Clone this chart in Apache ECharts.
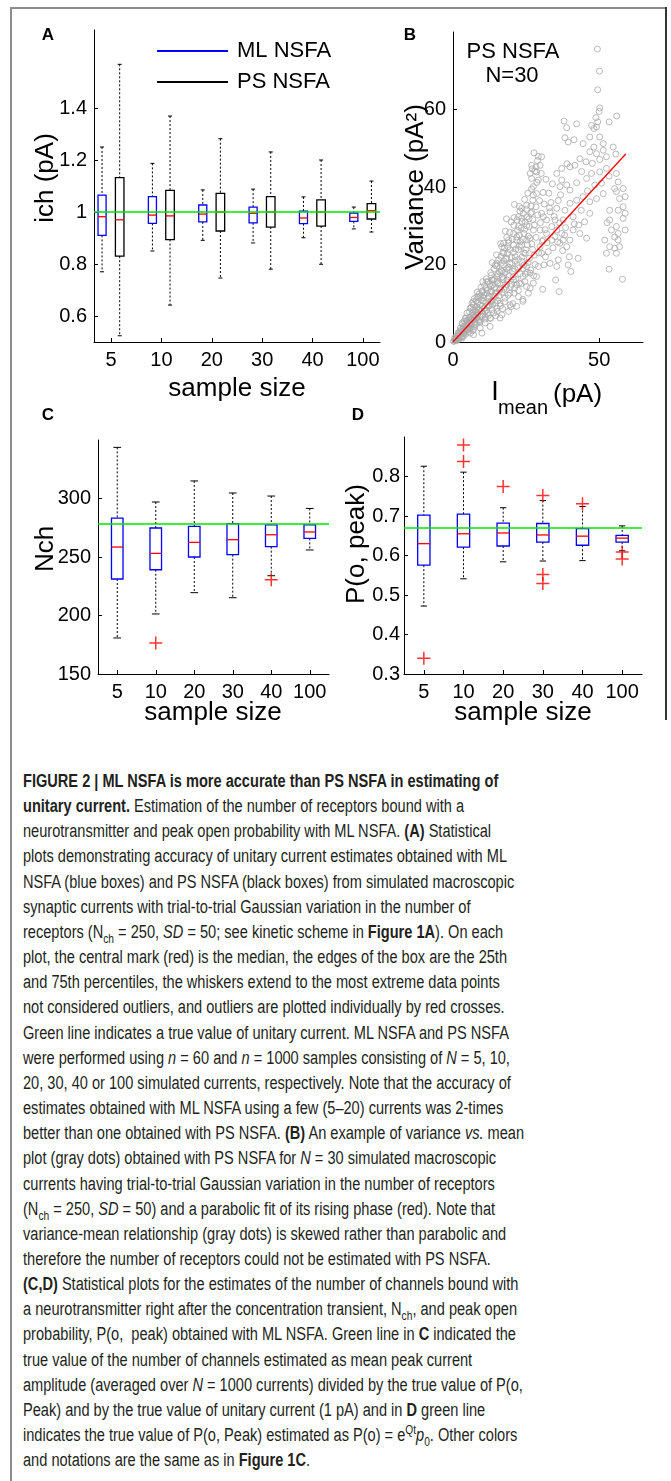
<!DOCTYPE html>
<html>
<head>
<meta charset="utf-8">
<script src="https://cdn.jsdelivr.net/npm/echarts@6/dist/echarts.min.js"></script>
<style>
  html, body { margin: 0; padding: 0; background: #fff; }
  #page { position: relative; width: 671px; height: 1481px; overflow: hidden; }
  #chart { position: absolute; left: 0; top: 0; width: 671px; height: 740px; }
  .frame { position: absolute; background: #8c8c8c; }
  #caption {
    position: absolute; left: 23px; top: 769px;
    font-family: 'Liberation Sans', Arial, sans-serif;
    font-size: 18px; line-height: 25.15px; color: #231f20;
    white-space: nowrap; transform-origin: 0 0;
  }
  #caption sub, #caption sup { font-size: 70%; line-height: 0; }
</style>
</head>
<body>
<div id="page">
  <div class="frame" style="left:10px; top:7px; width:2px; height:1474px;"></div>
  <div class="frame" style="left:10px; top:7px; width:657px; height:2px;"></div>
  <div class="frame" style="left:665px; top:7px; width:2px; height:713px; background:#333;"></div>
  <div id="chart"></div>
  <div id="caption">
<b>FIGURE 2 | ML NSFA is more accurate than PS NSFA in estimating of</b><br>
<b>unitary current.</b> Estimation of the number of receptors bound with a<br>
neurotransmitter and peak open probability with ML NSFA. <b>(A)</b> Statistical<br>
<span id="refline">plots demonstrating accuracy of unitary current estimates obtained with ML</span><br>
NSFA (blue boxes) and PS NSFA (black boxes) from simulated macroscopic<br>
synaptic currents with trial-to-trial Gaussian variation in the number of<br>
receptors (N<sub>ch</sub> = 250, <i>SD</i> = 50; see kinetic scheme in <b>Figure 1A</b>). On each<br>
plot, the central mark (red) is the median, the edges of the box are the 25th<br>
and 75th percentiles, the whiskers extend to the most extreme data points<br>
not considered outliers, and outliers are plotted individually by red crosses.<br>
Green line indicates a true value of unitary current. ML NSFA and PS NSFA<br>
were performed using <i>n</i> = 60 and <i>n</i> = 1000 samples consisting of <i>N</i> = 5, 10,<br>
20, 30, 40 or 100 simulated currents, respectively. Note that the accuracy of<br>
estimates obtained with ML NSFA using a few (5–20) currents was 2-times<br>
better than one obtained with PS NSFA. <b>(B)</b> An example of variance <i>vs.</i> mean<br>
plot (gray dots) obtained with PS NSFA for <i>N</i> = 30 simulated macroscopic<br>
currents having trial-to-trial Gaussian variation in the number of receptors<br>
(N<sub>ch</sub> = 250, <i>SD</i> = 50) and a parabolic fit of its rising phase (red). Note that<br>
variance-mean relationship (gray dots) is skewed rather than parabolic and<br>
therefore the number of receptors could not be estimated with PS NSFA.<br>
<b>(C,D)</b> Statistical plots for the estimates of the number of channels bound with<br>
a neurotransmitter right after the concentration transient, N<sub>ch</sub>, and peak open<br>
probability, P(o,&nbsp; peak) obtained with ML NSFA. Green line in <b>C</b> indicated the<br>
true value of the number of channels estimated as mean peak current<br>
amplitude (averaged over <i>N</i> = 1000 currents) divided by the true value of P(o,<br>
Peak) and by the true value of unitary current (1 pA) and in <b>D</b> green line<br>
indicates the true value of P(o, Peak) estimated as P(o) = e<sup>Qt</sup><i>p</i><sub>0</sub>. Other colors<br>
and notations are the same as in <b>Figure 1C</b>.
  </div>
</div>
<script>
var sampleSizes = ['5', '10', '20', '30', '40', '100'];

// each row: [min, q1, median, q3, max]
var ichML = [
  [0.77, 0.91, 0.982, 1.065, 1.25],
  [0.85, 0.956, 0.988, 1.059, 1.187],
  [0.891, 0.962, 0.992, 1.027, 1.085],
  [0.881, 0.958, 0.995, 1.019, 1.088],
  [0.901, 0.955, 0.977, 1.003, 1.058],
  [0.935, 0.964, 0.979, 0.996, 1.019]
];
var ichPS = [
  [0.524, 0.83, 0.97, 1.132, 1.568],
  [0.642, 0.894, 0.985, 1.083, 1.369],
  [0.746, 0.927, 1.0, 1.072, 1.282],
  [0.78, 0.942, 1.0, 1.059, 1.231],
  [0.799, 0.946, 1.0, 1.047, 1.2],
  [0.923, 0.973, 1.005, 1.032, 1.119]
];
var ichTrue = 1.0;

var nchML = [
  [180.8, 231.2, 258.5, 283.3, 343.7],
  [201.3, 239.1, 253.1, 274.8, 297],
  [219.5, 250, 262.5, 276.2, 315],
  [215.2, 252, 264.8, 278.5, 304.7],
  [234, 258.8, 269, 277.4, 302.1],
  [256, 265.9, 271.4, 277.4, 291.5]
];
// [sample-size index, value]
var nchOutliers = [[1, 176.5], [4, 230.6]];
var nchTrue = 278.2;

var popML = [
  [0.472, 0.5755, 0.630, 0.702, 0.826],
  [0.541, 0.621, 0.655, 0.705, 0.811],
  [0.584, 0.624, 0.657, 0.682, 0.721],
  [0.586, 0.634, 0.652, 0.681, 0.739],
  [0.587, 0.626, 0.649, 0.668, 0.724],
  [0.612, 0.634, 0.644, 0.651, 0.675]
];
var popOutliers = [
  [0, 0.340], [1, 0.880], [1, 0.838], [2, 0.775], [3, 0.752],
  [3, 0.552], [3, 0.529], [4, 0.731], [5, 0.609], [5, 0.591]
];
var popTrue = 0.665;

// panel B: [I mean (pA), variance (pA^2)]
var varianceMean = [
  [0.3,0.2],[0.8,0.5],[1.2,1.0],[1.5,0.6],[1.9,1.6],[2.2,1.1],[1.0,1.4],[2.6,2.0],[2.4,2.8],[3.0,1.5],
  [3.1,2.6],[3.4,3.5],[3.7,2.2],[4.0,4.1],[4.2,3.0],[4.5,5.0],[4.8,3.7],[5.0,2.6],[3.3,4.6],[4.4,6.1],
  [5.2,4.4],[5.5,5.6],[5.8,3.4],[3.8,5.4],[6.0,6.5],[6.3,4.8],[6.6,7.4],[6.9,5.6],[7.2,3.9],[7.4,8.2],
  [7.7,6.6],[8.0,4.8],[6.2,8.9],[7.0,9.6],[8.2,9.0],[8.5,7.3],[8.8,5.7],[5.6,7.8],[7.9,10.6],[6.7,2.9],
  [9.1,8.6],[9.4,6.4],[9.7,10.9],[10.0,9.3],[10.3,7.1],[10.6,12.1],[10.9,5.9],[11.2,10.2],[11.5,8.2],[11.8,13.4],
  [12.1,6.8],[9.0,12.4],[9.6,14.1],[10.8,14.6],[11.9,11.2],[8.6,11.5],[12.4,9.4],[12.0,15.5],[12.7,12.9],[13.0,10.6],
  [13.3,8.4],[13.6,14.7],[13.9,12.0],[14.2,16.3],[14.5,10.1],[14.8,13.8],[15.1,7.9],[15.4,17.6],[15.7,11.9],[16.0,15.0],
  [13.1,17.2],[14.0,18.8],[15.0,19.6],[16.2,9.3],[12.9,6.1],[14.6,6.8],[16.5,18.4],[16.8,12.8],[17.1,16.1],[17.4,20.9],
  [17.7,10.4],[18.0,14.2],[18.3,18.9],[18.6,22.8],[18.9,12.1],[19.2,16.9],[19.5,20.2],[19.8,9.1],[16.4,22.1],[17.6,24.2],
  [19.0,25.6],[20.0,14.9],[17.0,8.6],[18.4,27.0],[20.3,18.3],[20.6,23.1],[20.9,12.6],[21.2,21.0],[21.5,16.2],[21.8,27.1],
  [22.1,19.4],[22.4,13.3],[22.7,24.7],[23.0,17.6],[23.3,29.4],[23.6,21.9],[23.9,11.0],[20.8,30.1],[21.9,31.5],[22.9,33.8],
  [24.0,26.5],[20.5,9.9],[24.3,19.9],[24.6,15.6],[24.9,23.8],[25.2,30.0],[25.5,18.0],[25.8,27.3],[26.1,21.6],[26.4,13.9],
  [26.7,35.1],[27.0,25.3],[27.3,31.6],[27.6,17.1],[24.5,36.8],[25.6,38.4],[26.9,39.5],[27.8,22.4],[28.0,44.1],
  [0.2,0.2],[0.8,0.6],[1.4,1.0],[3.1,1.0],[1.9,1.9],[3.6,2.3],[5.9,2.3],[2.5,3.6],[4.8,3.2],[7.0,3.2],
  [9.3,3.6],[3.1,4.9],[5.3,4.5],[7.6,4.5],[8.8,5.3],[11.0,4.9],[4.2,6.2],[5.9,5.7],[4.8,7.5],[7.0,7.0],
  [9.9,6.6],[12.7,6.2],[16.7,7.0],[13.9,7.5],[11.0,7.9],[8.2,8.3],[5.9,8.7],[6.5,10.0],[9.3,9.6],[12.2,9.2],
  [15.0,8.7],[19.5,9.6],[16.1,10.0],[13.3,10.5],[10.5,11.3],[8.2,11.7],[9.9,13.0],[11.6,12.6],[14.4,11.7],[17.8,11.3],
  [22.4,11.7],[19.5,12.6],[16.1,13.5],[12.8,14.3],[11.6,15.6],[13.3,16.0],[15.3,15.2],[18.4,14.8],[21.1,13.9],[25.2,14.3],
  [22.7,15.2],[20.7,16.0],[17.3,16.5],[15.0,16.9],[16.7,18.2],[19.0,18.6],[23.9,16.9],[26.4,17.8],[25.2,19.5],[22.4,19.0],
  [20.1,20.3],[17.3,19.9],[23.5,20.8],[18.4,21.6],[21.3,22.0],[24.7,22.9],[19.5,23.8],[22.4,23.8],[20.7,25.0],[23.5,25.0],
  [25.2,26.3],[21.8,26.3],[22.7,27.6],[24.3,28.0],[27.5,28.9],[26.1,29.8],[24.7,31.0],[22.4,32.3],[23.5,31.9],[25.2,32.3],
  [26.6,33.2],[28.4,34.9],[27.3,36.6],[28.6,38.3],[27.5,40.1],[29.2,41.8],[26.9,42.2],[28.6,43.9],[26.4,43.5],[29.8,45.6],
  [28.4,45.2],[26.9,45.6],[30.3,47.8],[29.2,47.9],[27.7,48.8],[23.5,34.5],[25.2,35.3],[17.3,22.9],[15.0,20.3],[16.7,24.6],
  [19.0,26.3],[20.7,28.0],[22.4,29.8],[24.1,33.2],[17.3,25.5],[30.3,33.2],[32.0,31.5],[33.8,29.8],[35.5,28.9],[34.9,27.2],
  [37.2,28.0],[37.7,26.3],[30.9,26.3],[29.8,24.6],[31.6,22.0],[29.2,19.5],[28.6,16.9],[27.5,15.2],[25.8,12.6],[23.9,10.5],
  [21.8,9.2],[19.0,7.9],[16.1,6.2],[12.7,4.0],[9.9,2.3],[7.0,1.9],[29.8,28.9],[32.0,28.0],[33.8,26.3],[32.6,23.3],
  [30.3,22.9],[31.1,19.9],[33.2,20.3],[30.7,13.6],[36.3,13.0],[35.1,16.0],[40.3,18.2],[39.4,19.9],[35.5,19.5],[36.0,21.2],
  [42.8,21.6],[39.8,22.0],[36.6,25.5],[38.9,24.6],[40.0,26.3],[43.0,30.2],[41.1,28.9],[43.4,28.0],[45.7,26.8],[55.3,27.1],
  [51.9,26.3],[53.6,24.6],[52.5,22.9],[55.9,22.9],[55.3,24.2],[56.5,26.3],[57.0,24.6],[53.4,18.8],[58.0,16.2],[58.9,28.9],
  [58.2,31.9],[56.5,28.0],[55.9,29.8],[54.2,28.9],[52.7,30.8],[53.6,31.5],[58.9,33.2],[58.2,34.9],[56.5,34.0],[53.6,34.0],
  [46.8,33.2],[43.9,34.0],[41.1,32.3],[37.7,31.5],[34.9,31.5],[30.9,32.3],[33.2,33.6],[35.5,34.5],[38.3,34.0],[40.0,35.8],
  [42.3,36.6],[44.5,37.5],[46.8,36.2],[49.1,37.0],[51.4,38.3],[55.9,38.8],[57.0,37.0],[58.9,37.5],[58.2,39.6],[55.3,39.6],
  [56.5,41.3],[55.9,43.5],[53.4,42.8],[52.5,44.8],[50.2,43.9],[47.4,43.5],[45.7,42.2],[42.3,41.1],[40.0,39.2],[36.6,40.1],
  [38.9,40.5],[37.2,41.8],[35.5,43.5],[37.2,44.8],[40.0,45.2],[41.7,45.6],[43.4,47.3],[45.5,46.5],[47.7,46.1],[50.2,47.1],
  [52.5,47.8],[55.7,48.5],[54.8,50.3],[51.4,49.5],[49.1,48.6],[46.8,49.1],[48.2,50.3],[51.4,51.2],[50.2,52.9],[46.8,52.9],
  [44.5,51.2],[39.4,51.6],[41.4,52.2],[38.3,52.7],[38.9,55.3],[38.0,57.0],[42.3,56.3],[48.2,55.1],[47.4,55.9],[49.1,55.5],
  [49.5,56.8],[48.9,57.9],[53.4,56.8],[56.0,58.3],[50.0,59.5],[50.2,60.4],[49.5,65.1],[50.1,69.9],[49.4,75.6],[39.0,46.0],
  [36.8,38.0],[44.0,44.0],[48.5,40.5],[50.8,41.0],[46.0,39.0],[41.5,30.5],[45.0,31.0],[38.5,29.5],[36.0,36.5],[33.5,36.0],
  [0.5,0.9],[1.1,0.3],[1.7,2.3],[2.0,0.7],[2.8,1.2],[2.9,3.3],[3.5,1.4],[3.9,3.1],[4.3,2.0],[4.6,4.3],
  [5.1,3.3],[5.4,6.3],[5.7,4.9],[2.1,2.5],[3.6,4.0],[6.1,3.9],[6.4,5.9],[4.9,5.6],[6.8,8.2],[7.1,6.3],
  [7.5,5.1],[7.8,7.8],[8.1,6.1],[8.4,10.2],[8.7,8.3],[9.2,5.2],[9.5,11.8],[9.8,8.0],[10.1,13.2],[10.4,10.5],
  [10.7,8.8],[11.0,6.5],[11.3,13.8],[11.6,9.5],[11.9,7.4],[7.3,11.2],[8.3,12.9],[10.2,15.6],[11.4,16.3],[6.9,10.4],
  [12.3,11.8],[12.6,15.0],[12.9,17.9],[13.2,13.1],[13.5,9.6],[13.8,16.0],[14.1,14.0],[14.4,19.8],[14.7,12.6],[15.0,15.7],
  [15.3,10.7],[15.6,21.2],[15.9,18.0],[16.2,13.9],[16.5,20.3],[16.8,16.8],[17.1,23.1],[17.4,13.6],[17.7,18.0],[18.0,21.5],
  [13.4,20.5],[14.9,22.5],[16.3,25.4],[17.9,28.6],[18.5,16.0],[18.8,24.6],[19.1,19.3],[19.4,28.3],[19.7,14.3],[20.0,21.9],
  [20.3,26.5],[20.6,16.8],[20.9,32.1],[21.2,18.8],[21.5,24.0],[21.8,14.8],[22.1,28.8],[22.4,21.3],[22.7,35.0],[23.0,25.9],
  [23.3,15.0],[23.6,31.1],[23.9,19.0],[24.2,23.0],[24.5,29.1],[24.8,17.5],[25.1,34.2],[21.0,35.5],[19.9,31.0],[18.3,31.8],
  [25.4,25.1],[25.7,20.5],[26.0,31.8],[26.3,26.8],[26.6,18.6],[26.9,33.5],[27.2,23.9],[27.5,37.9],[27.8,30.2],[28.1,20.0],
  [28.4,27.0],[28.7,41.2],[29.0,32.8],[29.3,23.0],[29.6,36.5],[29.9,30.8],[30.2,43.5],[30.5,26.0],[30.8,38.6],[27.1,44.7],
  [28.9,46.8],[31.2,35.6],[31.5,29.0],[32.2,25.6],[33.0,34.6],[34.2,24.3],[34.6,32.4],[35.8,25.8],[36.5,30.7],[37.5,23.6],
  [38.2,27.6],[32.8,38.4],[34.0,40.8],[31.8,42.0]
];
// red fit line end points
var fitMean = [0, 59.1];
var fitVariance = [0, 48.5];

var FONT = "'Liberation Sans', Arial, sans-serif";
var BLUE = '#0000ff', RED = '#ff0000', GREEN = '#00e600', GRAY = '#a9a9a9';

// squeeze the caption to the condensed width of the printed one
(function () {
  var cap = document.getElementById('caption');
  var w = document.getElementById('refline').getBoundingClientRect().width;
  cap.style.transform = 'scaleX(' + (484 / w) + ')';
})();

var chart = echarts.init(document.getElementById('chart'), null, { renderer: 'canvas' });

function boxItem(shift, boxFrac, capFrac, boxColor) {
  return function (params, api) {
    var xv = api.value(0);
    var band = api.size([1, 0])[0];
    var cx = api.coord([xv, api.value(3)])[0] + shift * band;
    var yMin = api.coord([xv, api.value(1)])[1];
    var yQ1 = api.coord([xv, api.value(2)])[1];
    var yMed = api.coord([xv, api.value(3)])[1];
    var yQ3 = api.coord([xv, api.value(4)])[1];
    var yMax = api.coord([xv, api.value(5)])[1];
    var hw = band * boxFrac / 2, cw = band * capFrac / 2;
    var dash = { stroke: '#000', lineWidth: 1, lineDash: [2, 2] };
    var solid = { stroke: '#000', lineWidth: 1 };
    return {
      type: 'group',
      children: [
        { type: 'line', shape: { x1: cx, y1: yMax, x2: cx, y2: yQ3 }, style: dash },
        { type: 'line', shape: { x1: cx, y1: yQ1, x2: cx, y2: yMin }, style: dash },
        { type: 'line', shape: { x1: cx - cw, y1: yMax, x2: cx + cw, y2: yMax }, style: solid },
        { type: 'line', shape: { x1: cx - cw, y1: yMin, x2: cx + cw, y2: yMin }, style: solid },
        { type: 'rect', shape: { x: cx - hw, y: yQ3, width: 2 * hw, height: yQ1 - yQ3 },
          style: { fill: 'none', stroke: boxColor, lineWidth: 1.3 } },
        { type: 'line', shape: { x1: cx - hw, y1: yMed, x2: cx + hw, y2: yMed },
          style: { stroke: RED, lineWidth: 1.3 } }
      ]
    };
  };
}

function withIndex(rows) {
  return rows.map(function (r, i) { return [i + 1].concat(r); });
}
function outlierPoints(list) {
  return list.map(function (o) { return [o[0] + 1, o[1]]; });
}
function greenLine(v) {
  return {
    silent: true, symbol: 'none', label: { show: false },
    lineStyle: { color: GREEN, type: 'solid', width: 1.5 },
    data: [{ yAxis: v }]
  };
}

function catAxis(gi, min, max) {
  return {
    type: 'value', gridIndex: gi, min: min, max: max,
    axisLine: { lineStyle: { color: '#000', width: 1 } },
    axisTick: { inside: true, length: 4, customValues: [1, 2, 3, 4, 5, 6], lineStyle: { color: '#000' } },
    axisLabel: {
      customValues: [1, 2, 3, 4, 5, 6], color: '#000', fontSize: 20, fontFamily: FONT, margin: 8,
      formatter: function (v) { return sampleSizes[Math.round(v) - 1]; }
    },
    splitLine: { show: false }
  };
}
function valAxis(gi, min, max, ticks, margin) {
  return {
    type: 'value', gridIndex: gi, min: min, max: max,
    axisLine: { show: true, lineStyle: { color: '#000', width: 1 } },
    axisTick: { show: true, inside: true, length: 4, customValues: ticks, lineStyle: { color: '#000' } },
    axisLabel: {
      customValues: ticks, color: '#000', fontSize: 20, fontFamily: FONT, margin: margin,
      formatter: function (v) { return String(+v.toFixed(2)); }
    },
    splitLine: { show: false }
  };
}

function txt(x, y, text, size, opts) {
  opts = opts || {};
  return {
    type: 'text', x: x, y: y, rotation: opts.rot || 0, silent: true,
    style: {
      text: text, fill: '#000', fontSize: size, fontFamily: FONT,
      fontWeight: opts.bold ? 'bold' : 'normal',
      align: opts.align || 'center', verticalAlign: 'middle'
    }
  };
}

var crossSymbol = 'path://M5,0L5,10M0,5L10,5';

chart.setOption({
  animation: false,
  grid: [
    { left: 94, top: 30, width: 286, height: 312, containLabel: false, outerBoundsMode: 'none' },
    { left: 453, top: 32, width: 190, height: 310, containLabel: false, outerBoundsMode: 'none' },
    { left: 98, top: 440, width: 231, height: 234, containLabel: false, outerBoundsMode: 'none' },
    { left: 404, top: 437, width: 238, height: 237, containLabel: false, outerBoundsMode: 'none' }
  ],
  xAxis: [
    catAxis(0, 0.66, 6.34),
    valAxis(1, 0, 65, [0, 50], 8),
    catAxis(2, 0.5, 6.5),
    catAxis(3, 0.5, 6.5)
  ],
  yAxis: [
    valAxis(0, 0.5, 1.7, [0.6, 0.8, 1, 1.2, 1.4], 7),
    valAxis(1, 0, 80, [0, 20, 40, 60], 7),
    valAxis(2, 150, 350, [150, 200, 250, 300], 7),
    valAxis(3, 0.3, 0.9, [0.3, 0.4, 0.5, 0.6, 0.7, 0.8], 4)
  ],
  legend: {
    orient: 'vertical', left: 152, top: 35, itemWidth: 71, itemHeight: 2, itemGap: 9,
    selectedMode: false, icon: 'rect',
    textStyle: { color: '#000', fontSize: 22, fontFamily: FONT, padding: [0, 0, 0, 4] },
    data: [
      { name: 'ML NSFA', itemStyle: { color: BLUE } },
      { name: 'PS NSFA', itemStyle: { color: '#000' } }
    ]
  },
  graphic: [
    txt(48, 35, 'A', 17, { bold: true }),
    txt(410, 35, 'B', 17, { bold: true }),
    txt(48, 415, 'C', 17, { bold: true }),
    txt(358, 415, 'D', 17, { bold: true }),
    txt(46, 178, 'ich (pA)', 26, { rot: Math.PI / 2 }),
    txt(416, 187, 'Variance (pA\u00b2)', 26, { rot: Math.PI / 2 }),
    txt(46, 549, 'Nch', 26, { rot: Math.PI / 2 }),
    txt(357, 544, 'P(o, peak)', 26, { rot: Math.PI / 2 }),
    txt(237, 389, 'sample size', 26),
    txt(213, 713, 'sample size', 26),
    txt(523, 713, 'sample size', 26),
    txt(495, 393, 'I', 27),
    txt(498, 408, 'mean', 20, { align: 'left' }),
    txt(553, 395, '(pA)', 26, { align: 'left' }),
    txt(513, 52, 'PS NSFA', 22),
    txt(512, 76, 'N=30', 22)
  ],
  series: [
    {
      name: 'ML NSFA', type: 'custom', xAxisIndex: 0, yAxisIndex: 0,
      itemStyle: { color: BLUE },
      renderItem: boxItem(-0.18, 0.16, 0.08, BLUE),
      encode: { x: 0, y: [1, 2, 3, 4, 5] },
      data: withIndex(ichML),
      markLine: greenLine(ichTrue),
      z: 3
    },
    {
      name: 'PS NSFA', type: 'custom', xAxisIndex: 0, yAxisIndex: 0,
      itemStyle: { color: '#000' },
      renderItem: boxItem(0.17, 0.17, 0.08, '#000'),
      encode: { x: 0, y: [1, 2, 3, 4, 5] },
      data: withIndex(ichPS),
      z: 2
    },
    {
      name: 'variance', type: 'scatter', xAxisIndex: 1, yAxisIndex: 1,
      symbol: 'circle', symbolSize: 6,
      itemStyle: { color: 'none', borderColor: GRAY, borderWidth: 1 },
      data: varianceMean, z: 2
    },
    {
      name: 'fit', type: 'line', xAxisIndex: 1, yAxisIndex: 1,
      symbol: 'none', lineStyle: { color: RED, width: 1.3 },
      data: fitMean.map(function (m, i) { return [m, fitVariance[i]]; }),
      z: 4
    },
    {
      name: 'Nch', type: 'custom', xAxisIndex: 2, yAxisIndex: 2,
      renderItem: boxItem(0, 0.30, 0.2, BLUE),
      encode: { x: 0, y: [1, 2, 3, 4, 5] },
      data: withIndex(nchML),
      markLine: greenLine(nchTrue),
      z: 3
    },
    {
      name: 'Nch outliers', type: 'scatter', xAxisIndex: 2, yAxisIndex: 2,
      symbol: crossSymbol, symbolSize: 13,
      itemStyle: { color: 'none', borderColor: RED, borderWidth: 1.5 },
      data: outlierPoints(nchOutliers), z: 4
    },
    {
      name: 'Popeak', type: 'custom', xAxisIndex: 3, yAxisIndex: 3,
      renderItem: boxItem(0, 0.31, 0.16, BLUE),
      encode: { x: 0, y: [1, 2, 3, 4, 5] },
      data: withIndex(popML),
      markLine: greenLine(popTrue),
      z: 3
    },
    {
      name: 'Popeak outliers', type: 'scatter', xAxisIndex: 3, yAxisIndex: 3,
      symbol: crossSymbol, symbolSize: 13,
      itemStyle: { color: 'none', borderColor: RED, borderWidth: 1.5 },
      data: outlierPoints(popOutliers), z: 4
    }
  ]
});
window.addEventListener('resize', function () { chart.resize(); });
</script>
</body>
</html>
